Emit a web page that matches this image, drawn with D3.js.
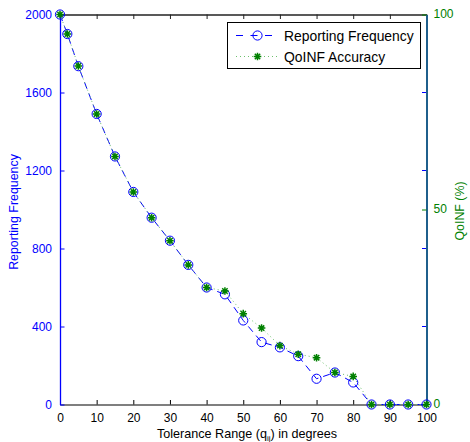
<!DOCTYPE html>
<html>
<head>
<meta charset="utf-8">
<script src="https://cdn.jsdelivr.net/npm/d3@7"></script>
<style>
  html, body { margin: 0; padding: 0; background: #fff; }
  svg { display: block; font-family: "Liberation Sans", Arial, sans-serif; }
</style>
</head>
<body>
<svg id="chart" width="470" height="442"></svg>
<script>
// Tolerance range (degrees) at which each measurement was taken
const tolerance = [0, 2, 5, 10, 15, 20, 25, 30, 35, 40, 45, 50, 55, 60, 65, 70, 75, 80, 85, 90, 95, 100];
// Reporting frequency (left axis)
const reportingFrequency = [2000, 1900, 1735, 1490, 1272, 1090, 958, 840, 716, 600, 565, 431, 320, 293, 248, 132, 164, 113, 0, 0, 0, 0];
// QoINF accuracy in percent (right axis)
const qoinfAccuracy = [100, 95, 86.8, 74.5, 63.6, 54.5, 47.9, 42, 35.8, 30, 29.1, 23.3, 19.6, 15.1, 12.9, 12, 8.2, 7.2, 0, 0, 0, 0];

const xTicks = [0, 10, 20, 30, 40, 50, 60, 70, 80, 90, 100];
const leftTicks = [0, 400, 800, 1200, 1600, 2000];
const rightTicks = [0, 50, 100];

const BLUE = "#0000ff";
const GREEN = "#008000";
const RIGHT_AXIS = "#1f5f8c";

const svg = d3.select("#chart");
const L = 60, R = 426.5, T = 14.5, B = 404.5;

const x = d3.scaleLinear().domain([0, 100]).range([L, R]);
const yL = d3.scaleLinear().domain([0, 2000]).range([B, T]);
const yR = d3.scaleLinear().domain([0, 100]).range([B, T]);

const tickLen = 4.5;
const fontSize = 12;
const fmt = d3.format("d");

// bottom axis
const gBottom = svg.append("g").attr("transform", `translate(0,${B})`)
  .call(d3.axisBottom(x).tickValues(xTicks).tickFormat(fmt).tickSizeInner(-tickLen).tickSizeOuter(0).tickPadding(8.5));
gBottom.select(".domain").attr("stroke", "#000").attr("stroke-width", 1.2);
gBottom.selectAll(".tick line").attr("stroke", "#000");
gBottom.selectAll(".tick text").attr("fill", "#000").style("font-size", fontSize + "px");

// top axis (ticks only)
const gTop = svg.append("g").attr("transform", `translate(0,${T})`)
  .call(d3.axisTop(x).tickValues(xTicks).tickSizeInner(-tickLen).tickSizeOuter(0).tickFormat(""));
gTop.select(".domain").attr("stroke", "#222").attr("stroke-width", 1.5);
gTop.selectAll(".tick line").attr("stroke", "#222");

// left axis (blue)
const gLeft = svg.append("g").attr("transform", `translate(${L},0)`)
  .call(d3.axisLeft(yL).tickValues(leftTicks).tickFormat(fmt).tickSizeInner(-tickLen).tickSizeOuter(0).tickPadding(8));
gLeft.select(".domain").attr("stroke", BLUE).attr("stroke-width", 1.3);
gLeft.selectAll(".tick line").attr("stroke", BLUE);
gLeft.selectAll(".tick text").attr("fill", BLUE).style("font-size", fontSize + "px");

// mirrored left-axis ticks along the right edge
svg.append("g").selectAll("line")
  .data(leftTicks.filter(d => d > 0 && d < 2000))
  .join("line")
  .attr("x1", R - tickLen).attr("x2", R)
  .attr("y1", d => yL(d)).attr("y2", d => yL(d))
  .attr("stroke", BLUE);

// right axis (QoINF)
const gRight = svg.append("g").attr("transform", `translate(${R},0)`)
  .call(d3.axisRight(yR).tickValues(rightTicks).tickFormat(fmt).tickSizeInner(-tickLen).tickSizeOuter(0).tickPadding(7));
gRight.select(".domain").attr("stroke", RIGHT_AXIS).attr("stroke-width", 2);
gRight.selectAll(".tick line").attr("stroke", GREEN);
gRight.selectAll(".tick text").attr("fill", GREEN).style("font-size", fontSize + "px")
  .attr("dy", "0.26em");

// axis titles
svg.append("text")
  .attr("transform", `translate(18,${212}) rotate(-90)`)
  .attr("text-anchor", "middle")
  .attr("fill", BLUE).style("font-size", "12.4px")
  .text("Reporting Frequency");

svg.append("text")
  .attr("transform", `translate(464,${211}) rotate(-90)`)
  .attr("text-anchor", "middle")
  .attr("fill", GREEN).style("font-size", "12.4px")
  .text("QoINF (%)");

const xt = svg.append("text")
  .attr("x", 247).attr("y", 437.5)
  .attr("text-anchor", "middle")
  .attr("fill", "#000").style("font-size", "12.6px");
xt.append("tspan").text("Tolerance Range (q");
xt.append("tspan").attr("dy", 3).style("font-size", "8px").text("ij");
xt.append("tspan").attr("dy", -3).text(") in degrees");

// star marker path (asterisk)
function starPath(cx, cy, r) {
  let p = "";
  for (let i = 0; i < 4; i++) {
    const a = i * Math.PI / 4;
    const dx = r * Math.cos(a), dy = r * Math.sin(a);
    p += `M${cx - dx},${cy - dy}L${cx + dx},${cy + dy}`;
  }
  return p;
}

const plot = svg.append("g");

// reporting frequency: dashed line with open circles
const freqLine = d3.line().x((d, i) => x(tolerance[i])).y(d => yL(d));
plot.append("path")
  .datum(reportingFrequency)
  .attr("d", freqLine)
  .attr("fill", "none").attr("stroke", BLUE).attr("stroke-width", 1)
  .attr("stroke-dasharray", "7,5");
plot.append("g").selectAll("circle")
  .data(reportingFrequency)
  .join("circle")
  .attr("cx", (d, i) => x(tolerance[i])).attr("cy", d => yL(d)).attr("r", 4.6)
  .attr("fill", "none").attr("stroke", BLUE).attr("stroke-width", 1);

// QoINF accuracy: dotted line with asterisks
const accLine = d3.line().x((d, i) => x(tolerance[i])).y(d => yR(d));
plot.append("path")
  .datum(qoinfAccuracy)
  .attr("d", accLine)
  .attr("fill", "none").attr("stroke", "#6cc06c").attr("stroke-width", 1)
  .attr("stroke-dasharray", "1,3");
plot.append("g").selectAll("path")
  .data(qoinfAccuracy)
  .join("path")
  .attr("d", (d, i) => starPath(x(tolerance[i]), yR(d), 3.8))
  .attr("stroke", GREEN).attr("stroke-width", 1.5).attr("fill", "none");

// legend
const lg = svg.append("g");
lg.append("rect")
  .attr("x", 227.5).attr("y", 22.5).attr("width", 193).attr("height", 46)
  .attr("fill", "#fff").attr("stroke", "#000").attr("stroke-width", 1);

const lx1 = 236, lx2 = 279, lmid = 257.5;
const row1 = 35.5, row2 = 56.5;
lg.append("line").attr("x1", lx1).attr("x2", lx2).attr("y1", row1).attr("y2", row1)
  .attr("stroke", BLUE).attr("stroke-dasharray", "7,7.5");
lg.append("circle").attr("cx", lmid).attr("cy", row1).attr("r", 4.6)
  .attr("fill", "none").attr("stroke", BLUE);
lg.append("text").attr("x", 284).attr("y", row1 + 5)
  .attr("fill", "#000").style("font-size", "13.9px").text("Reporting Frequency");

lg.append("line").attr("x1", lx1).attr("x2", lx2).attr("y1", row2).attr("y2", row2)
  .attr("stroke", "#6cc06c").attr("stroke-dasharray", "1,3");
lg.append("path").attr("d", starPath(lmid, row2, 3.8))
  .attr("stroke", GREEN).attr("stroke-width", 1.5);
lg.append("text").attr("x", 284).attr("y", row2 + 5)
  .attr("fill", "#000").style("font-size", "13.9px").text("QoINF Accuracy");
</script>
</body>
</html>
